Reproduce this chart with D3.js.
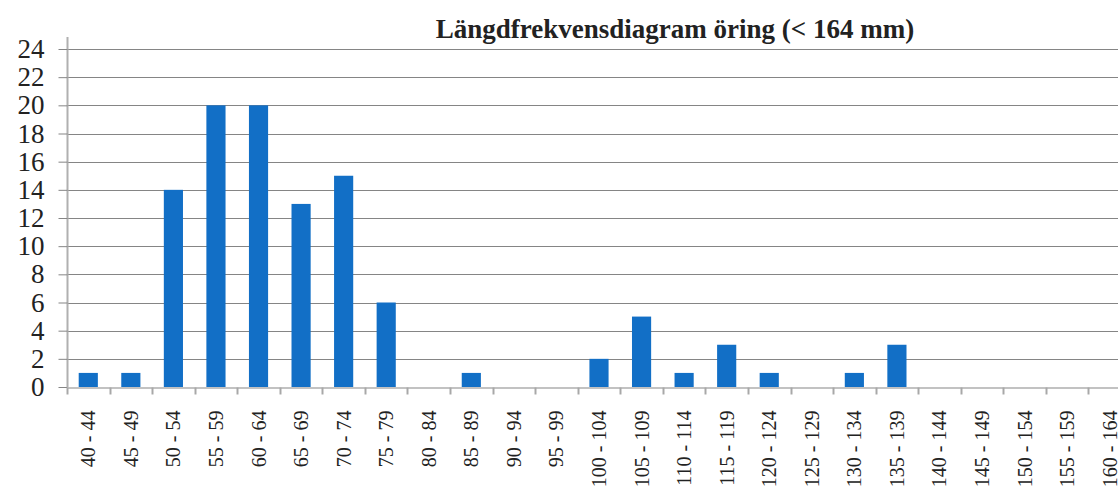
<!DOCTYPE html>
<html>
<head>
<meta charset="utf-8">
<script src="https://cdn.jsdelivr.net/npm/d3@7"></script>
<style>
  body { margin: 0; background: #fff; }
  svg { display: block; }
</style>
</head>
<body>
<script>
(function(){
    var categories = ["40 - 44", "45 - 49", "50 - 54", "55 - 59", "60 - 64", "65 - 69",
        "70 - 74", "75 - 79", "80 - 84", "85 - 89", "90 - 94", "95 - 99",
        "100 - 104", "105 - 109", "110 - 114", "115 - 119", "120 - 124", "125 - 129",
        "130 - 134", "135 - 139", "140 - 144", "145 - 149", "150 - 154", "155 - 159",
        "160 - 164"];
    var counts = [1, 1, 14, 20, 20, 13, 15, 6, 0, 1, 0, 0, 2, 5, 1, 3, 1, 0, 1, 3, 0, 0, 0, 0, 0];
    var yTicks = [0, 2, 4, 6, 8, 10, 12, 14, 16, 18, 20, 22, 24];
    var title = "Längdfrekvensdiagram öring (< 164 mm)";

    var svgWidth = 1118;
    var svgHeight = 493;
    var left = 67, right = 1131, top = 49, bottom = 387;
    var serif = "'Liberation Serif', 'DejaVu Serif', serif";

    var svg = d3.select("body").append("svg")
        .attr("width", svgWidth).attr("height", svgHeight);

    var x = d3.scaleBand().domain(categories).range([left, right])
        .paddingInner(0.55).paddingOuter(0.275);
    var y = d3.scaleLinear().domain([0, 24]).range([bottom, top]);

    // gridlines
    svg.append("g").selectAll("line").data(yTicks.slice(1)).enter()
        .append("line")
        .attr("x1", left).attr("x2", svgWidth)
        .attr("y1", function (d) { return Math.round(y(d)) + 0.5; })
        .attr("y2", function (d) { return Math.round(y(d)) + 0.5; })
        .attr("stroke", "#858585").attr("stroke-width", 1);

    // bars
    svg.append("g").selectAll("rect").data(counts).enter()
        .append("rect")
        .attr("x", function (d, i) { return x(categories[i]); })
        .attr("y", function (d) { return y(d); })
        .attr("width", x.bandwidth())
        .attr("height", function (d) { return bottom - y(d); })
        .attr("fill", "#126fc6");

    // y axis
    var yAxis = svg.append("g")
        .attr("transform", "translate(" + (left + 0.5) + ",0)")
        .attr("font-family", serif).attr("font-size", 27)
        .call(d3.axisLeft(y).tickValues(yTicks).tickSize(9).tickPadding(14));
    yAxis.attr("font-family", serif).attr("font-size", 27);
    yAxis.select(".domain").attr("stroke", "#b0b0b0").attr("stroke-width", 2)
        .attr("d", "M0," + (top - 12) + "V" + bottom);
    yAxis.selectAll(".tick line").attr("stroke", "#858585");
    yAxis.selectAll(".tick text").attr("fill", "#222");

    // x axis
    var xAxis = svg.append("g")
        .attr("transform", "translate(0," + (bottom + 0.5) + ")")
        .call(d3.axisBottom(x).tickSize(0).tickPadding(0));
    xAxis.attr("font-family", serif).attr("font-size", 20);
    xAxis.select(".domain").attr("stroke", "#858585").attr("stroke-width", 1);
    // category boundary ticks
    xAxis.append("g").selectAll("line").data(categories).enter()
        .append("line")
        .attr("x1", function (d) { return Math.round(x(d) - x.step() * x.paddingOuter()) + 0.5; })
        .attr("x2", function (d) { return Math.round(x(d) - x.step() * x.paddingOuter()) + 0.5; })
        .attr("y1", 0).attr("y2", 7)
        .attr("stroke", "#a8a8a8").attr("stroke-width", 2);
    xAxis.selectAll(".tick text")
        .attr("fill", "#222")
        .attr("transform", "rotate(-90)")
        .attr("text-anchor", "end")
        .attr("dy", "0.35em")
        .attr("x", -23).attr("y", 0);

    // title
    svg.append("text")
        .attr("x", 675).attr("y", 38)
        .attr("text-anchor", "middle")
        .attr("font-family", serif)
        .attr("font-weight", "bold")
        .attr("font-size", 27)
        .attr("fill", "#222")
        .text(title);
})();
</script>
</body>
</html>
